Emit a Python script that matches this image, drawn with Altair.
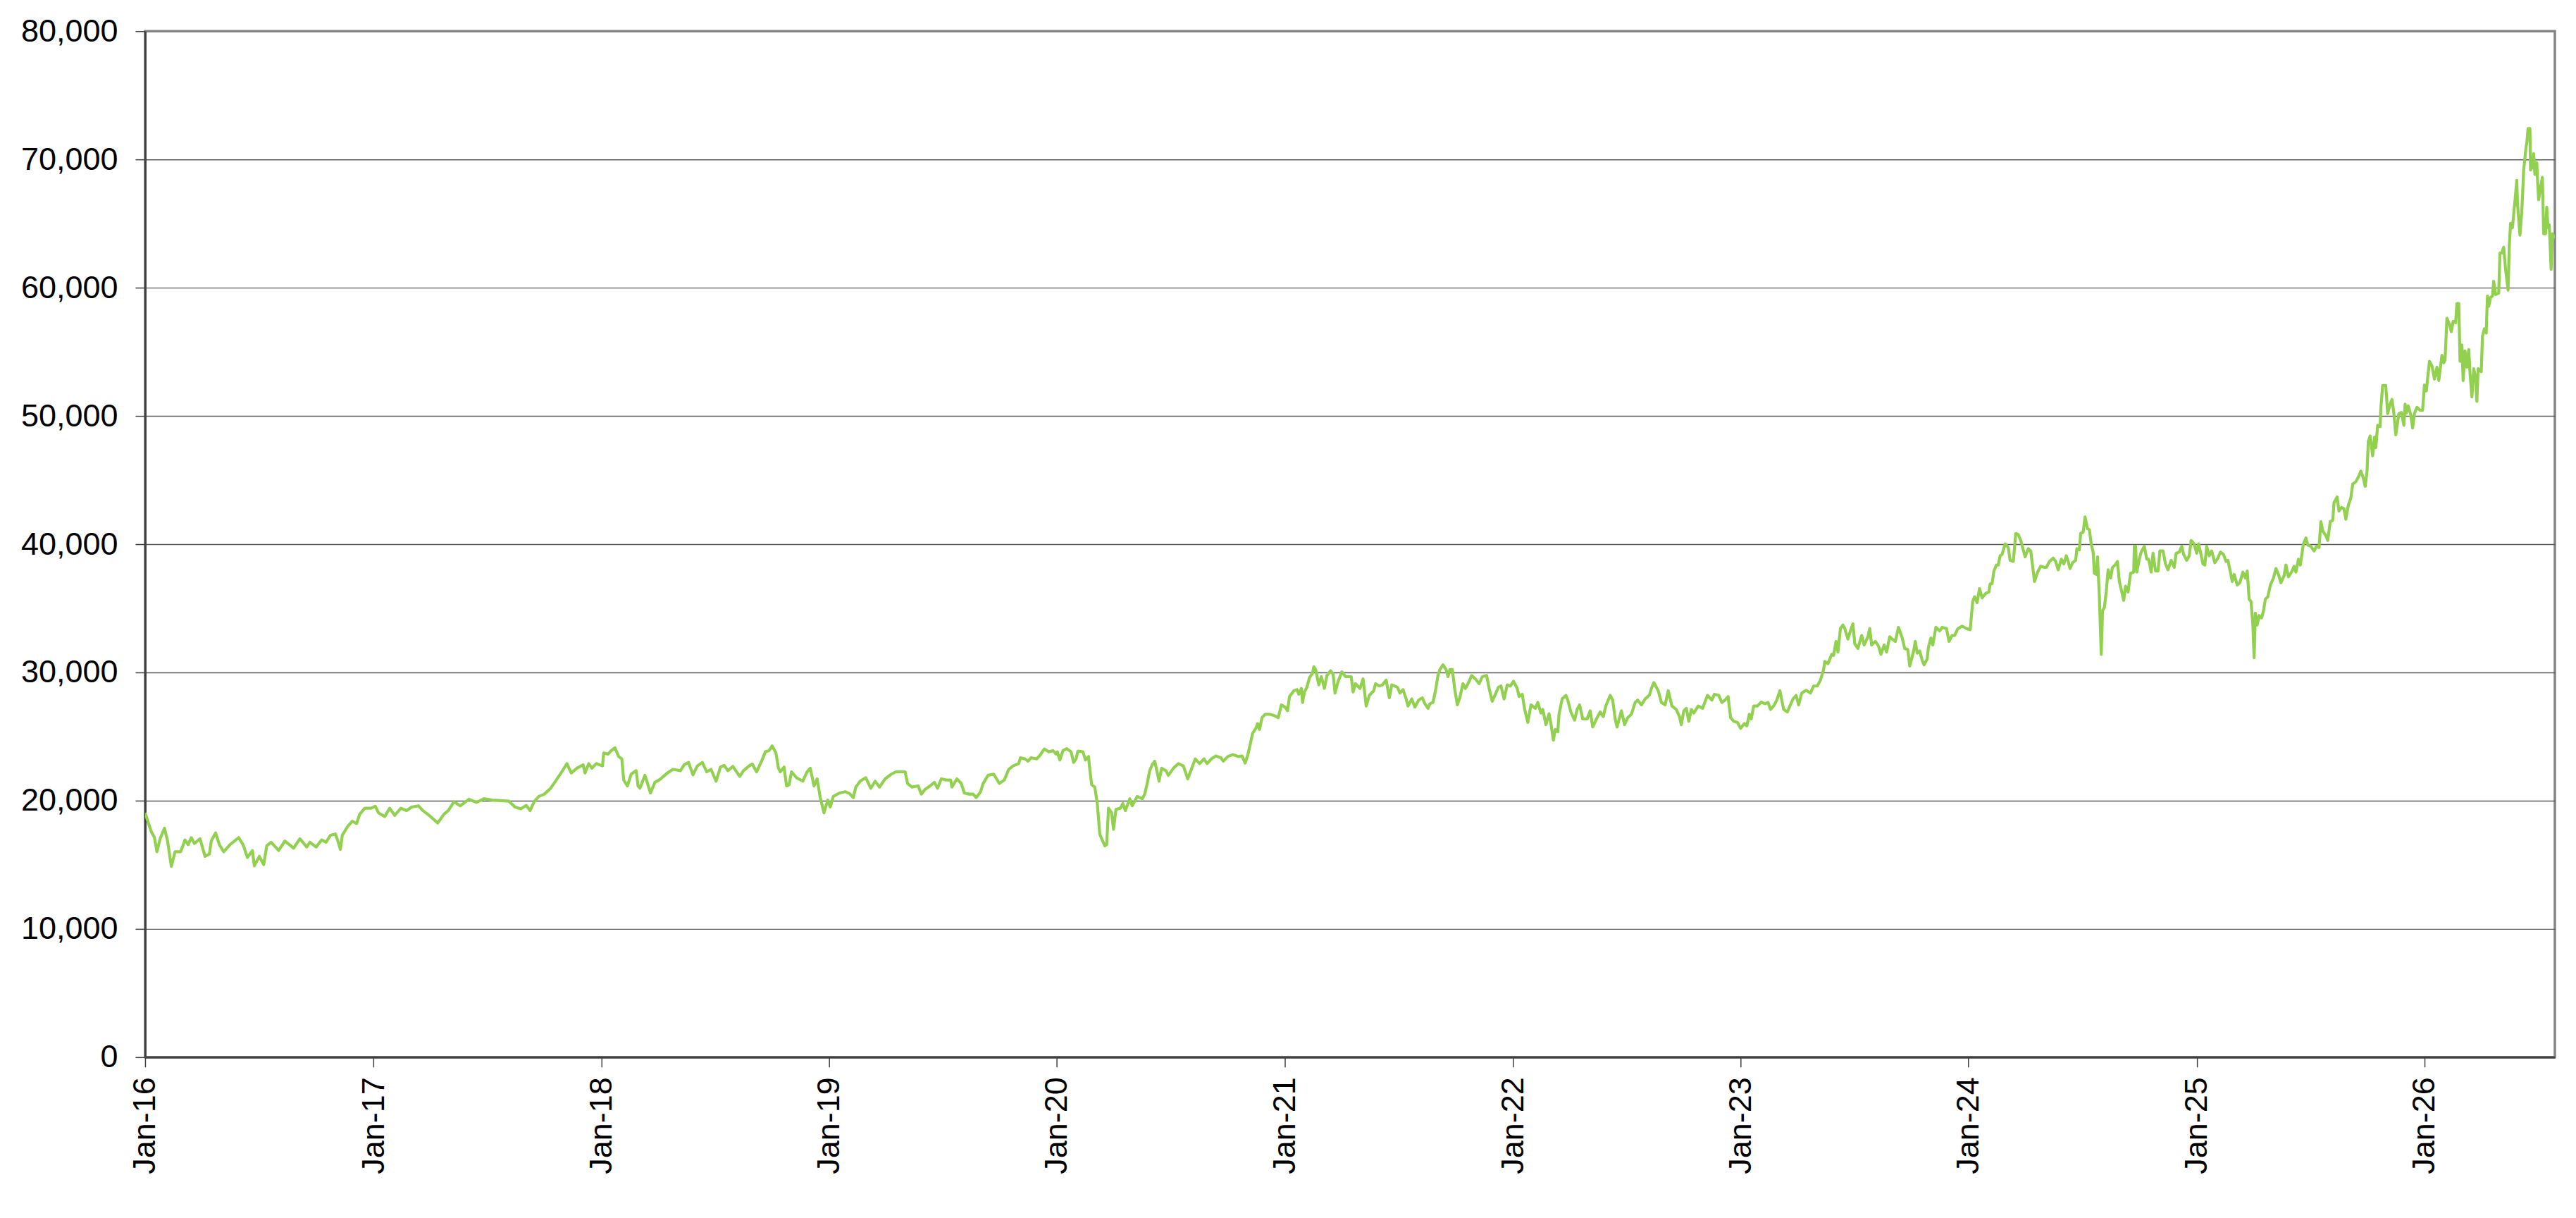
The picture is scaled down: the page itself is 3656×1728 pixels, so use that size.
import altair as alt
import pandas as pd

# ---- data (date "MM-DD" within the year, index level) ----
d2016 = ["01-01","01-06","01-11","01-16","01-20","01-25","02-01","02-06","02-12","02-18","02-27","03-05","03-10","03-15","03-20","03-29","04-06","04-13","04-16","04-23","04-29","05-06","05-16","05-30","06-06","06-13","06-21","06-24","07-02","07-09","07-14","07-21","08-02","08-12","08-26","09-05","09-16","09-21","10-01","10-10","10-17","10-24","11-01","11-05","11-09","11-12","11-20","11-28","12-05","12-10","12-18","12-28"]
v2016 = [19050,18300,17580,17120,16020,17030,17850,16850,14870,16020,16020,16940,16570,17120,16660,17030,15660,15840,16850,17490,16570,16020,16570,17120,16570,15570,16110,14920,15660,15020,16480,16760,16110,16850,16300,17030,16390,16760,16390,16940,16760,17300,17400,16850,16200,17300,17950,18400,18220,18950,19410,19410]

d2017 = ["01-04","01-09","01-19","01-27","02-04","02-14","02-23","03-03","03-14","03-21","03-31","04-14","04-24","05-01","05-10","05-20","06-03","06-15","06-27","07-11","07-25","08-06","08-16","08-25","09-03","09-09","09-16","09-23","10-02","10-12","10-21","10-31","11-07","11-14","11-23","12-03","12-06","12-12","12-17","12-24"]
v2017 = [19560,19050,18770,19410,18860,19410,19230,19500,19600,19230,18860,18260,18950,19230,19920,19600,20110,19870,20150,20050,20000,19960,19500,19360,19630,19230,19960,20330,20510,20970,21610,22340,22890,22160,22530,22800,22160,22890,22530,22890]

d2018 = ["01-03","01-05","01-12","01-17","01-23","01-29","02-03","02-06","02-12","02-18","02-26","03-01","03-04","03-12","03-21","03-28","04-05","04-17","04-26","05-08","05-14","05-21","05-28","06-04","06-12","06-19","06-26","07-04","07-11","07-17","07-23","07-31","08-11","08-17","08-26","08-31","09-07","09-15","09-21","09-27","10-02","10-08","10-12","10-15","10-21","10-25","10-29","11-02","11-10","11-20","11-27","12-02","12-08","12-13","12-18","12-24","12-30"]
v2018 = [22710,23720,23630,23900,24120,23440,23260,21610,21150,22070,22340,21150,20970,21980,20600,21430,21650,22160,22440,22340,22800,22980,22010,22710,22980,22250,22440,21520,22620,22750,22340,22670,21890,22340,22710,22860,22250,23080,23810,23900,24270,23720,22530,22250,22620,21150,21240,22250,21790,21520,22250,22530,21150,21700,20240,19050,20050]

d2019 = ["01-03","01-08","01-18","01-27","02-03","02-09","02-13","02-20","03-01","03-09","03-16","03-23","04-01","04-11","04-18","04-25","05-03","05-07","05-14","05-24","05-29","06-04","06-12","06-19","06-24","06-30","07-08","07-15","07-17","07-25","08-01","08-06","08-13","08-20","08-25","09-01","09-05","09-13","09-22","10-01","10-09","10-16","10-23","11-01","11-04","11-11","11-16","11-21","11-30","12-05","12-12","12-19","12-26","12-31"]
v2019 = [19510,20330,20600,20700,20550,20240,21060,21520,21790,20970,21520,21060,21700,22070,22250,22250,22250,21340,21060,21150,20510,20880,21150,21430,20970,21700,21610,21610,21060,21700,21340,20600,20510,20510,20240,20700,21340,21980,22070,21340,21610,22440,22710,22890,23350,23260,23080,23350,23260,23530,24030,23810,23900,23630]

d2020 = ["01-02","01-06","01-11","01-17","01-24","01-28","02-01","02-04","02-12","02-16","02-21","02-23","02-26","03-02","03-06","03-10","03-13","03-18","03-21","03-24","03-29","04-01","04-05","04-12","04-16","04-20","04-27","05-01","05-09","05-17","05-21","05-25","05-29","06-02","06-06","06-09","06-13","06-17","06-24","06-28","07-06","07-14","07-22","07-29","08-03","08-10","08-17","08-24","08-29","09-05","09-12","09-20","09-24","10-01","10-09","10-18","10-24","10-29","11-02","11-06","11-10","11-15","11-18","11-21","11-25","11-30","12-07","12-14","12-21","12-26"]
v2020 = [23810,23170,23900,24050,23810,22980,23260,23870,23810,23170,23440,22440,21250,21060,19780,17400,17030,16480,16570,19410,19050,17770,19320,19410,19780,19230,20150,19600,20330,20150,20510,21340,22340,22800,23080,22440,21520,22530,22340,21980,22530,22890,22710,21700,22340,23260,22890,23260,22890,23260,23480,23350,23080,23440,23590,23440,23480,22930,23530,24360,25270,25640,26010,25550,26470,26740,26740,26650,26470,27470]

d2021 = ["01-01","01-05","01-08","01-15","01-20","01-23","01-27","01-29","02-01","02-05","02-09","02-14","02-16","02-19","02-24","02-28","03-05","03-09","03-15","03-19","03-22","03-27","04-02","04-08","04-17","04-20","04-24","05-01","05-06","05-11","05-16","05-23","05-26","06-01","06-06","06-12","06-17","06-21","06-30","07-04","07-09","07-14","07-17","07-23","07-28","08-03","08-09","08-13","08-18","08-21","08-26","08-30","09-03","09-06","09-11","09-16","09-19","09-22","09-26","09-30","10-04","10-08","10-13","10-17","10-22","10-27","11-02","11-08","11-13","11-20","11-24","11-29","12-04","12-09","12-13","12-18","12-23","12-28"]
v2021 = [27290,27010,28120,28570,28660,28300,28750,27660,28480,28850,29580,29950,30440,30220,29030,29670,28750,29760,30130,29850,28390,29310,30040,29670,29670,28480,29120,28750,29490,27380,28210,28570,29120,28940,29030,29400,28020,29030,28850,28390,28660,27930,27380,27930,27290,27840,28020,27560,27200,27560,27660,28570,29760,30220,30590,30220,29670,30220,30220,28660,27470,28020,29120,28750,29210,29760,29490,29120,29670,29760,28750,27750,28300,28850,28940,27930,29030,28940]

d2022 = ["01-02","01-08","01-11","01-16","01-20","01-25","01-30","02-06","02-10","02-15","02-18","02-23","02-28","03-03","03-07","03-10","03-14","03-16","03-21","03-27","03-30","04-04","04-10","04-14","04-18","04-23","04-30","05-05","05-09","05-16","05-21","05-26","05-30","06-06","06-10","06-14","06-17","06-24","06-29","07-04","07-10","07-16","07-20","07-26","08-01","08-08","08-11","08-15","08-22","08-27","09-02","09-07","09-13","09-20","09-25","09-28","10-02","10-06","10-10","10-14","10-18","10-25","11-01","11-09","11-16","11-20","11-27","12-02","12-07","12-12","12-16","12-21","12-27"]
v2022 = [29310,28750,28120,28300,27110,26100,27470,27200,27660,26830,27110,25920,26780,26010,24720,25550,25370,26740,27930,28210,27840,26920,26280,27110,27470,26370,26370,27010,25740,26470,26920,26560,27380,28210,27840,26370,25740,27010,25920,26470,26740,27660,27840,27470,27930,28240,28750,29210,28570,27660,27470,28570,27380,27110,26560,25920,27010,27200,26190,27110,26830,27380,27200,28210,27840,28300,28210,27660,27840,28120,26470,26190,26100]

d2023 = ["01-01","01-07","01-11","01-15","01-18","01-22","01-28","02-03","02-09","02-14","02-18","02-23","02-28","03-05","03-11","03-17","03-21","03-26","03-31","04-04","04-09","04-16","04-23","04-28","05-04","05-09","05-14","05-16","05-21","05-27","05-30","06-03","06-06","06-10","06-14","06-17","06-22","06-26","06-30","07-03","07-08","07-14","07-18","07-24","07-27","07-30","08-05","08-10","08-14","08-19","08-23","08-28","09-01","09-06","09-11","09-17","09-21","09-26","09-29","10-05","10-08","10-11","10-15","10-19","10-22","10-27","10-29","11-02","11-05","11-10","11-16","11-20","11-27","12-01","12-06","12-10","12-15","12-22","12-29"]
v2023 = [25640,26010,25830,26740,26370,27380,27380,27690,27560,27660,27110,27380,27840,28570,27110,26920,27380,27930,28210,27470,28390,28610,28390,28940,28940,29400,30220,30860,30680,31410,31320,32420,31590,33420,33700,33420,32600,33240,33790,32230,31870,32880,32140,32780,33420,32140,32420,32050,31410,32140,31590,32780,32600,32420,33520,32690,31870,31780,30500,31590,32420,31500,31680,30950,30590,31050,31960,32690,32140,33520,33240,33520,33420,32420,32880,32880,33400,33610,33420]

d2024 = ["01-04","01-08","01-11","01-15","01-19","01-23","01-29","02-03","02-05","02-08","02-11","02-15","02-18","02-21","02-24","02-29","03-05","03-08","03-13","03-17","03-21","03-25","03-28","04-01","04-06","04-10","04-14","04-16","04-21","04-26","05-02","05-05","05-10","05-16","05-20","05-24","05-29","06-02","06-06","06-09","06-12","06-16","06-21","06-23","06-27","06-29","07-03","07-06","07-10","07-13","07-16","07-19","07-21","07-24","07-26","07-29","08-01","08-03","08-06","08-09","08-12","08-16","08-19","08-23","08-27","08-30","09-03","09-06","09-09","09-13","09-17","09-22","09-23","09-25","09-27","10-01","10-04","10-09","10-13","10-16","10-20","10-23","10-27","10-31","11-03","11-08","11-12","11-16","11-21","11-26","11-29","12-04","12-08","12-11","12-16","12-20","12-23","12-28"]
v2024 = [33330,35530,35900,35440,36540,35810,36170,36270,36910,36910,37910,38370,38370,39100,39200,40020,39740,38740,38650,40840,40750,40290,39740,39010,39650,39470,37910,37090,37820,38280,38190,38190,38650,38920,38650,38000,38830,38460,39100,38650,38100,38550,38740,39650,39560,40840,40930,42120,41210,41120,40020,39380,37730,37640,39010,35900,31410,34800,35070,36270,38000,37360,38190,38370,38650,37090,36270,35620,36720,36270,37730,37820,39830,39830,37820,38830,39380,39830,38830,38830,37820,39290,37910,37910,39470,39470,38460,38000,38740,38190,39290,39380,39830,39200,38740,39100,40290,40020]

d2025 = ["01-01","01-04","01-07","01-11","01-14","01-17","01-21","01-25","01-30","02-04","02-08","02-13","02-17","02-20","02-24","02-27","03-02","03-07","03-11","03-16","03-20","03-23","03-26","03-29","04-01","04-03","04-05","04-08","04-11","04-15","04-18","04-21","04-25","04-29","05-04","05-08","05-12","05-16","05-21","05-24","05-28","06-02","06-06","06-09","06-13","06-16","06-21","06-25","06-28","07-03","07-08","07-12","07-16","07-19","07-22","07-27","07-30","08-03","08-07","08-09","08-14","08-17","08-21","08-25","08-28","09-01","09-05","09-08","09-13","09-18","09-21","09-25","09-28","10-01","10-03","10-06","10-10","10-13","10-15","10-18","10-22","10-23","10-26","10-31","11-03","11-07","11-10","11-13","11-16","11-21","11-25","11-29","12-01","12-03","12-06","12-10","12-13","12-16","12-20","12-25","12-29"]
v2025 = [39290,40020,39380,38460,38370,39830,39100,39470,38550,38920,39380,39200,38650,38740,37820,37090,37640,36810,36990,37820,37360,37910,35710,35530,33700,31140,34620,33700,34440,34250,34800,35710,35900,36810,37360,38100,37640,36990,37550,38370,37450,37820,38280,37820,38830,38370,40020,40480,39930,39830,39470,39830,39740,41760,41030,40660,40290,41760,41850,43230,43680,42580,42860,42770,41940,43040,43590,44690,44870,45330,45700,45150,44510,45700,47990,48440,46890,48350,47530,49270,49180,50550,52380,52380,50180,50920,51280,50180,48530,50180,50270,49270,50920,50210,50790,50100,49060,50210,50670,50440,50440]

d2026 = ["01-01","01-04","01-09","01-13","01-17","01-21","01-24","01-29","02-01","02-03","02-06","02-10","02-13","02-16","02-20","02-22","02-25","02-27","03-02","03-04","03-07","03-10","03-13","03-15","03-18","03-21","03-24","03-26","03-28","04-02","04-04","04-07","04-10","04-11","04-12","04-14","04-17","04-20","04-22","04-25","04-30","05-02","05-05","05-08","05-11","05-15","05-17","05-19","05-22","05-26","05-29","05-30","06-03","06-06","06-09","06-13","06-14","06-16","06-19","06-20","06-23","06-25","06-27","06-30","07-01","07-03","07-06","07-09","07-11","07-14","07-16","07-18","07-20","07-23","07-25","07-29"]
v2026 = [52410,51950,54260,53910,52870,53800,52760,54720,54140,54370,57610,57150,56570,57380,57270,58770,58770,54260,55530,52760,55070,53800,55180,53340,51480,53680,52990,51140,53680,53450,56230,56800,56460,58080,59350,58540,59230,59350,60500,59460,59580,62700,62700,63160,61430,59810,63280,65010,64670,66750,68370,66630,64090,65940,69180,71030,71260,72410,72410,69180,69410,70450,68830,69750,68600,66860,67790,68600,64200,64200,66280,64670,64900,61430,64200,63860]

years = {2016: (d2016, v2016), 2017: (d2017, v2017), 2018: (d2018, v2018),
         2019: (d2019, v2019), 2020: (d2020, v2020), 2021: (d2021, v2021),
         2022: (d2022, v2022), 2023: (d2023, v2023), 2024: (d2024, v2024),
         2025: (d2025, v2025), 2026: (d2026, v2026)}

y_ticks = [0, 10000, 20000, 30000, 40000, 50000, 60000, 70000, 80000]
x_tick_years = list(range(2016, 2027))

rows = []
for yr, (ds, vs) in years.items():
    for d, v in zip(ds, vs):
        rows.append({"date": f"{yr}-{d}", "value": v})
df = pd.DataFrame(rows)

FONT = "Liberation Sans"

x_axis = alt.Axis(
    values=[alt.DateTime(year=y, month=1, date=1, utc=True) for y in x_tick_years],
    format="%b-%y", labelAngle=270, labelFont=FONT, labelFontSize=45,
    labelColor="#000000", labelPadding=14, tickSize=14, tickColor="#404040",
    tickWidth=1.5, domainColor="#404040", domainWidth=3, grid=False, title=None,
    labelOverlap=False, labelFlush=False,
)
y_axis = alt.Axis(
    values=y_ticks, format=",d", labelFont=FONT, labelFontSize=45,
    labelColor="#000000", labelPadding=25, tickSize=14, tickColor="#404040",
    tickWidth=1.5, domainColor="#404040", domainWidth=3, grid=True,
    gridColor="#5a5a5a", gridWidth=1.5,
    gridOpacity={"condition": {"test": "datum.value === 0 || datum.value === 80000", "value": 0}, "value": 1},
    title=None, labelOverlap=False,
)

chart = alt.Chart(df).mark_line(color="#92D050", strokeWidth=4.2, clip=True,
                                strokeJoin="round").encode(
    x=alt.X("date:T", axis=x_axis,
            scale=alt.Scale(type="utc",
                            domain=[alt.DateTime(year=2016, month=1, date=1, utc=True),
                                    alt.DateTime(year=2026, month=7, date=29, utc=True)])),
    y=alt.Y("value:Q", axis=y_axis, scale=alt.Scale(domain=[0, 80000], nice=False)),
).properties(
    width=3421, height=1456,
    autosize=alt.AutoSizeParams(type="none"),
    padding={"left": 198, "top": 36, "right": 22, "bottom": 220},
    background="#ffffff",
).configure_view(
    stroke="#858585", strokeWidth=3.5,
)

chart.save("out.html", embed_options={"renderer": "svg", "actions": False})
